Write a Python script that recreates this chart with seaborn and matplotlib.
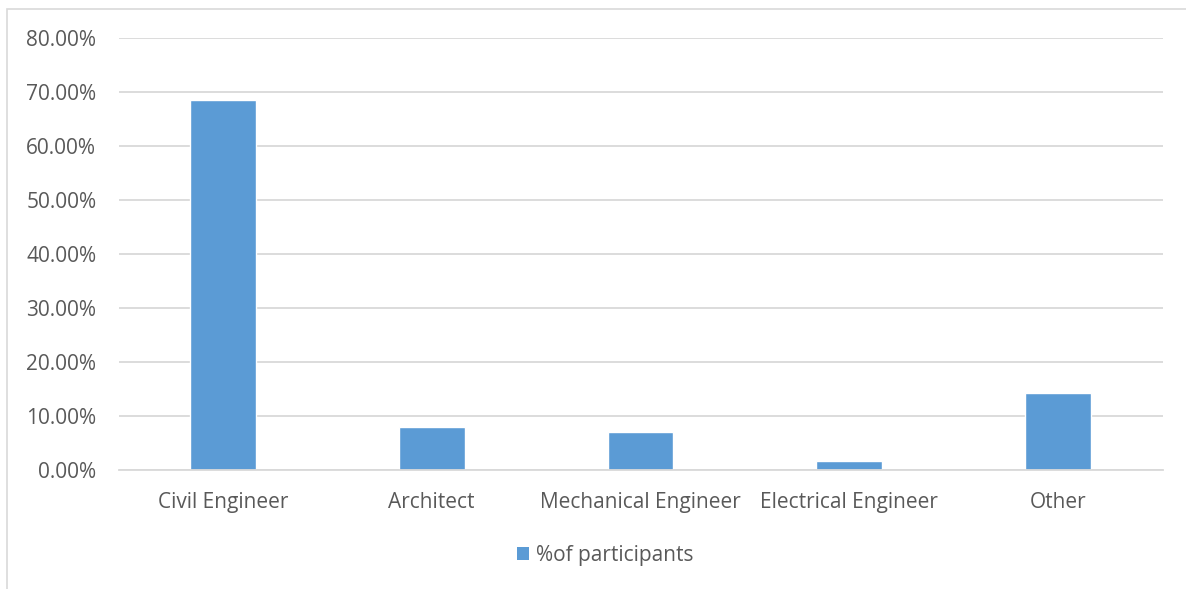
import matplotlib
matplotlib.use("Agg")
import matplotlib.pyplot as plt
from matplotlib.patches import Rectangle
from matplotlib.ticker import FuncFormatter, MultipleLocator
import seaborn as sns
import pandas as pd

# Participants by profession (% of participants)
professions = ["Civil Engineer", "Architect", "Mechanical Engineer", "Electrical Engineer", "Other"]
share_pct = [68.5, 8.0, 7.1, 1.7, 14.3]
series_name = "%of participants"

df = pd.DataFrame({"Profession": professions, "Share": share_pct, "Series": series_name})

sns.set_theme(style="white")
plt.rcParams["font.family"] = ["Open Sans", "DejaVu Sans"]

W, H = 1186, 589
fig = plt.figure(figsize=(W / 100, H / 100), dpi=100)
ax = fig.add_axes([118.5 / W, 1 - 470 / H, (1162.5 - 118.5) / W, (470 - 38) / H])

bar_color = "#5B9BD5"
text_color = "#595959"
grid_color = "#D9D9D9"

sns.barplot(data=df, x="Profession", y="Share", hue="Series", palette=[bar_color],
            width=0.315, saturation=1, ax=ax, legend=False)

ax.set_ylim(0, 80)
ax.set_xlim(-0.5, len(professions) - 0.5)
ax.yaxis.set_major_locator(MultipleLocator(10))
ax.yaxis.set_major_formatter(FuncFormatter(lambda v, _: f"{v:.2f}%"))
ax.grid(axis="y", color=grid_color, linewidth=1.3)
ax.set_axisbelow(True)
for s in ["top", "right", "left"]:
    ax.spines[s].set_visible(False)
ax.spines["bottom"].set_color(grid_color)
ax.spines["bottom"].set_linewidth(1.3)
ax.set_xlabel("")
ax.set_ylabel("")
ax.tick_params(axis="both", length=0, labelsize=15, colors=text_color)
ax.tick_params(axis="y", pad=16)
ax.tick_params(axis="x", pad=16)

# legend below the plot
handle = Rectangle((0, 0), 1, 1, facecolor=bar_color, edgecolor="none")
fig.legend([handle], [series_name], loc="center", bbox_to_anchor=(605 / W, 1 - 555 / H),
           frameon=False, fontsize=15, labelcolor=text_color, handlelength=0.6,
           handleheight=0.6, handletextpad=0.3)

# chart area border
fig.patches.append(Rectangle((7 / W, -0.1), 1.2, 1 - 9 / H + 0.1, transform=fig.transFigure,
                             facecolor="none", edgecolor=grid_color, linewidth=1.2))

fig.savefig("out.png", dpi=100)
